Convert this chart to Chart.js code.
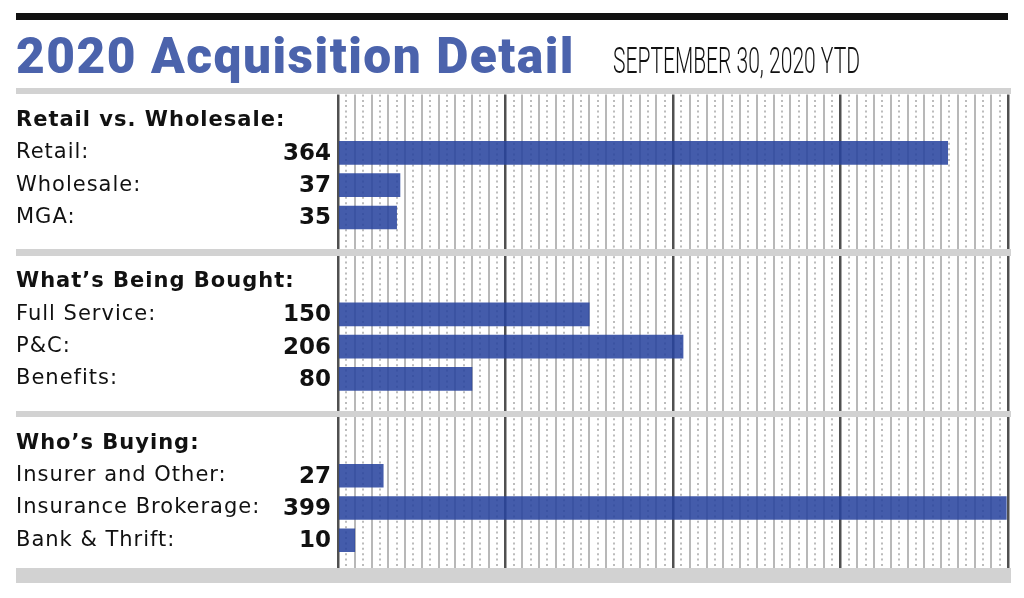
<!DOCTYPE html>
<html>
<head>
<meta charset="utf-8">
<title>2020 Acquisition Detail</title>
<script src="https://cdn.jsdelivr.net/npm/chart.js"></script>
<style>
  body { margin: 0; background: #fff; }
  canvas { display: block; }
</style>
</head>
<body>
<canvas id="acq" width="1024" height="598"></canvas>
<script>
  const titleText = '2020 Acquisition Detail';
  const subtitleText = 'SEPTEMBER 30, 2020 YTD';

  const sectionTitles = ['Retail vs. Wholesale:', 'What\u2019s Being Bought:', 'Who\u2019s Buying:'];

  const channelCats = ['Retail', 'Wholesale', 'MGA'];
  const channelVals = [364, 37, 35];

  const boughtCats = ['Full Service', 'P&C', 'Benefits'];
  const boughtVals = [150, 206, 80];

  const buyerCats = ['Insurer and Other', 'Insurance Brokerage', 'Bank & Thrift'];
  const buyerVals = [27, 399, 10];

  const axisMax = 400;

  // one row for the heading, three bars, one spacer row per section
  const groups = [[channelCats, channelVals], [boughtCats, boughtVals], [buyerCats, buyerVals]];
  var labels = [], values = [], isHeader = [];
  groups.forEach(function (g, n) {
    labels.push(sectionTitles[n]); values.push(null); isHeader.push(true);
    g[0].forEach(function (c, i) {
      labels.push(c + ':'); values.push(g[1][i]); isHeader.push(false);
    });
    labels.push(''); values.push(null); isHeader.push(false);
  });

  const BLUE = '#4b63ac';
  const BAR = 'rgba(40, 68, 158, 0.87)';
  const RULE = '#d2d2d2';

  function gridColor(c) {
    if (!c.tick) return 'transparent';
    const v = c.tick.value;
    if (v % 100 === 0) return '#505050';
    if (v % 10 === 0) return '#b8b8b8';
    return '#bcbcbc';
  }
  function gridWidth(c) {
    if (!c.tick) return 0;
    return c.tick.value % 100 === 0 ? 2.5 : 2;
  }
  function gridDash(c) {
    if (!c.tick) return [];
    return c.tick.value % 10 === 0 ? [] : [2, 3.4];
  }

  const decor = {
    id: 'decor',
    beforeDraw(chart) {
      // the row labels are set a little wider than DejaVu's default
      chart.ctx.letterSpacing = '1px';
    },
    afterDraw(chart) {
      const ctx = chart.ctx;
      const y = chart.scales.y;
      ctx.letterSpacing = '0px';
      ctx.save();
      // hide grid below the bottom rule
      ctx.fillStyle = '#fff';
      ctx.fillRect(0, 583, 1024, 15);

      ctx.fillStyle = '#111';
      ctx.fillRect(16, 13, 992, 7);

      ctx.fillStyle = RULE;
      [[88, 6], [249, 7], [411, 6], [568, 15]].forEach(function (r) {
        ctx.fillRect(16, r[0], 995, r[1]);
      });

      ctx.textBaseline = 'alphabetic';
      ctx.textAlign = 'left';
      ctx.fillStyle = BLUE;
      ctx.font = '900 50px Roboto';
      ctx.letterSpacing = '1.5px';
      ctx.fillText(titleText, 16, 73, 559);
      ctx.letterSpacing = '0px';

      ctx.fillStyle = '#111';
      ctx.font = '300 36px Roboto';
      ctx.fillText(subtitleText, 613, 73, 247);

      ctx.font = 'bold 23px "DejaVu Sans"';
      ctx.textAlign = 'right';
      ctx.textBaseline = 'middle';
      values.forEach(function (v, i) {
        if (v !== null) ctx.fillText(String(v), 331, y.getPixelForValue(i) + 1);
      });
      ctx.restore();
    }
  };

  new Chart(document.getElementById('acq'), {
    type: 'bar',
    data: {
      labels: labels,
      datasets: [{
        data: values,
        backgroundColor: BAR,
        borderWidth: 0,
        barThickness: 23
      }]
    },
    options: {
      indexAxis: 'y',
      responsive: false,
      animation: false,
      layout: { padding: { top: 94.5, bottom: 9.3, left: 16, right: 16 } },
      plugins: { legend: { display: false }, tooltip: { enabled: false } },
      scales: {
        x: {
          position: 'top',
          min: 0,
          max: axisMax,
          ticks: { display: false, stepSize: 5 },
          grid: {
            color: gridColor,
            lineWidth: gridWidth,
            tickLength: 10,
            tickBorderDash: gridDash
          },
          border: { display: false, dash: gridDash }
        },
        y: {
          grid: { display: false },
          border: { display: false },
          ticks: {
            autoSkip: false,
            crossAlign: 'far',
            color: '#111',
            font: function (c) {
              return isHeader[c.index]
                ? { family: 'DejaVu Sans', weight: 'bold', size: 21 }
                : { family: 'DejaVu Sans', size: 21 };
            }
          },
          afterFit: function (scale) {
            scale.width = 322;
            scale.paddingTop = 0;
            scale.paddingBottom = 0;
          }
        }
      }
    },
    plugins: [decor]
  });
</script>
</body>
</html>
